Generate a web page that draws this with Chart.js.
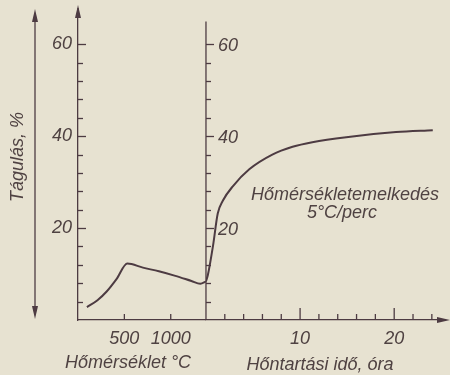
<!DOCTYPE html>
<html>
<head>
<meta charset="utf-8">
<script src="https://cdn.jsdelivr.net/npm/chart.js@4.4.1/dist/chart.umd.min.js"></script>
<style>
  html, body { margin: 0; padding: 0; background: #e7e2d1; }
  canvas { display: block; }
</style>
</head>
<body>
<canvas id="myChart" width="450" height="375"></canvas>
<script>
// heating part: temperature (°C) -> expansion (%)
const tempC   = [96, 210, 309, 415, 532, 700, 872, 1050, 1223, 1319, 1380];
const tempExp = [2.8, 4.3, 6.2, 8.9, 12.3, 11.4, 10.6, 9.6, 8.5, 7.9, 8.4];
// holding part: time (hours) -> expansion (%)
const holdH   = [0, 0.2, 0.75, 1.25, 1.8, 2.85, 4.6, 7.05, 9.2, 11.3, 14.9, 20.2, 24.1];
const holdExp = [8.4, 9.8, 16.2, 23.2, 26, 29.1, 32.8, 36, 37.7, 38.7, 39.8, 40.9, 41.3];

const yTicks = [20, 40, 60];
const tempTicks = [500, 1000];
const hourTicks = [10, 20];

const ink = '#4d3b42';
const textInk = '#4f4242';
const italic = { family: 'Liberation Sans', style: 'italic', size: 18 };

function seg(ctx, x1, y1, x2, y2) {
    ctx.beginPath();
    ctx.moveTo(x1, y1);
    ctx.lineTo(x2, y2);
    ctx.stroke();
}
function head(ctx, tx, ty, dx, dy) {
    // narrow filled arrow head, tip at (tx, ty), pointing along (dx, dy)
    const l = 13, w = 3;
    ctx.beginPath();
    ctx.moveTo(tx, ty);
    ctx.lineTo(tx - dx * l - dy * w, ty - dy * l - dx * w);
    ctx.lineTo(tx - dx * l + dy * w, ty - dy * l + dx * w);
    ctx.closePath();
    ctx.fill();
}

const decorations = {
    id: 'decorations',
    beforeDraw(chart) {
        const c = chart.ctx;
        c.save();
        c.fillStyle = '#e7e2d1';
        c.fillRect(0, 0, chart.width, chart.height);
        c.restore();
    },
    afterDraw(chart) {
        const { ctx, scales } = chart;
        const x = scales.x, x2 = scales.x2, y = scales.y;
        const y0 = y.getPixelForValue(0);
        const xl = x.left;
        const xm = x2.getPixelForValue(0);
        ctx.save();
        ctx.strokeStyle = ink;
        ctx.fillStyle = ink;
        ctx.lineWidth = 1.3;

        // inward ticks on both vertical axes
        for (let v = 4; v <= 60; v += 4) {
            const py = Math.round(y.getPixelForValue(v)) + 0.5;
            const len = yTicks.includes(v) ? 8 : 5;
            seg(ctx, xl, py, xl + len, py);
            seg(ctx, xm, py, xm + len, py);
        }
        // middle axis line
        seg(ctx, xm, y.getPixelForValue(65), xm, y0);
        // left axis arrow
        seg(ctx, xl, y.top, xl, 8);
        head(ctx, xl, 5, 0, -1);

        // ticks along the bottom axes
        tempTicks.forEach(v => {
            const px = x.getPixelForValue(v);
            seg(ctx, px, y0, px, y0 - 6);
        });
        for (let h = 2; h <= 24; h += 2) {
            const px = x2.getPixelForValue(h);
            seg(ctx, px, y0, px, y0 - (hourTicks.includes(h) ? 12 : 6));
        }
        head(ctx, 450, y0, 1, 0);

        // quantity arrow on the far left
        seg(ctx, 35, 14, 35, 314);
        head(ctx, 35, 9, 0, -1);
        head(ctx, 35, 319, 0, 1);

        // texts
        ctx.fillStyle = textInk;
        ctx.font = 'italic 18px "Liberation Sans"';
        ctx.textBaseline = 'middle';
        ctx.textAlign = 'left';
        yTicks.forEach(v => {
            ctx.fillText(String(v), xm + 12, y.getPixelForValue(v) + 2);
        });
        ctx.textAlign = 'center';
        ctx.fillText('Hőmérséklet °C', 128, 363);
        ctx.fillText('Hőntartási idő, óra', 320, 365);
        ctx.fillText('Hőmérsékletemelkedés', 345, 195);
        ctx.fillText('5°C/perc', 342, 213);

        ctx.translate(18, 157);
        ctx.rotate(-Math.PI / 2);
        ctx.fillText('Tágulás, %', 0, 0);
        ctx.restore();
    }
};

const ctx = document.getElementById('myChart');
new Chart(ctx, {
    type: 'line',
    data: {
        datasets: [{
            data: tempC.map((t, i) => ({ x: t, y: tempExp[i] })),
            xAxisID: 'x',
            yAxisID: 'y'
        }, {
            data: holdH.map((h, i) => ({ x: h, y: holdExp[i] })),
            xAxisID: 'x2',
            yAxisID: 'y'
        }]
    },
    options: {
        responsive: false,
        animation: false,
        layout: {
            padding: { top: 8, right: 3, left: 0, bottom: 0 }
        },
        elements: {
            line: {
                borderColor: ink,
                borderWidth: 2,
                cubicInterpolationMode: 'monotone'
            },
            point: { radius: 0 }
        },
        scales: {
            x: {
                type: 'linear',
                position: 'bottom',
                stack: 'bottom',
                stackWeight: 130,
                min: 0,
                max: 1380,
                afterBuildTicks: s => { s.ticks = tempTicks.map(v => ({ value: v })); },
                afterFit: s => { s.height = 55; },
                grid: { drawOnChartArea: false, drawTicks: false },
                border: { color: ink, width: 1.3 },
                ticks: {
                    color: textInk,
                    font: italic,
                    padding: 8,
                    maxRotation: 0,
                    autoSkip: false,
                    callback: v => String(v)
                }
            },
            x2: {
                type: 'linear',
                position: 'bottom',
                stack: 'bottom',
                stackWeight: 239,
                min: 0,
                max: 25,
                afterBuildTicks: s => { s.ticks = hourTicks.map(v => ({ value: v })); },
                afterFit: s => { s.height = 55; },
                grid: { drawOnChartArea: false, drawTicks: false },
                border: { color: ink, width: 1.3 },
                ticks: {
                    color: textInk,
                    font: italic,
                    padding: 8,
                    maxRotation: 0,
                    autoSkip: false,
                    callback: v => String(v)
                }
            },
            y: {
                type: 'linear',
                position: 'left',
                min: 0,
                max: 66,
                afterBuildTicks: s => { s.ticks = yTicks.map(v => ({ value: v })); },
                afterFit: s => { s.width = 78; },
                grid: { drawOnChartArea: false, drawTicks: false },
                border: { color: ink, width: 1.3 },
                ticks: {
                    color: textInk,
                    font: italic,
                    padding: 6,
                    callback: v => String(v)
                }
            }
        },
        plugins: {
            legend: { display: false },
            tooltip: { enabled: false }
        }
    },
    plugins: [decorations]
});
</script>
</body>
</html>
